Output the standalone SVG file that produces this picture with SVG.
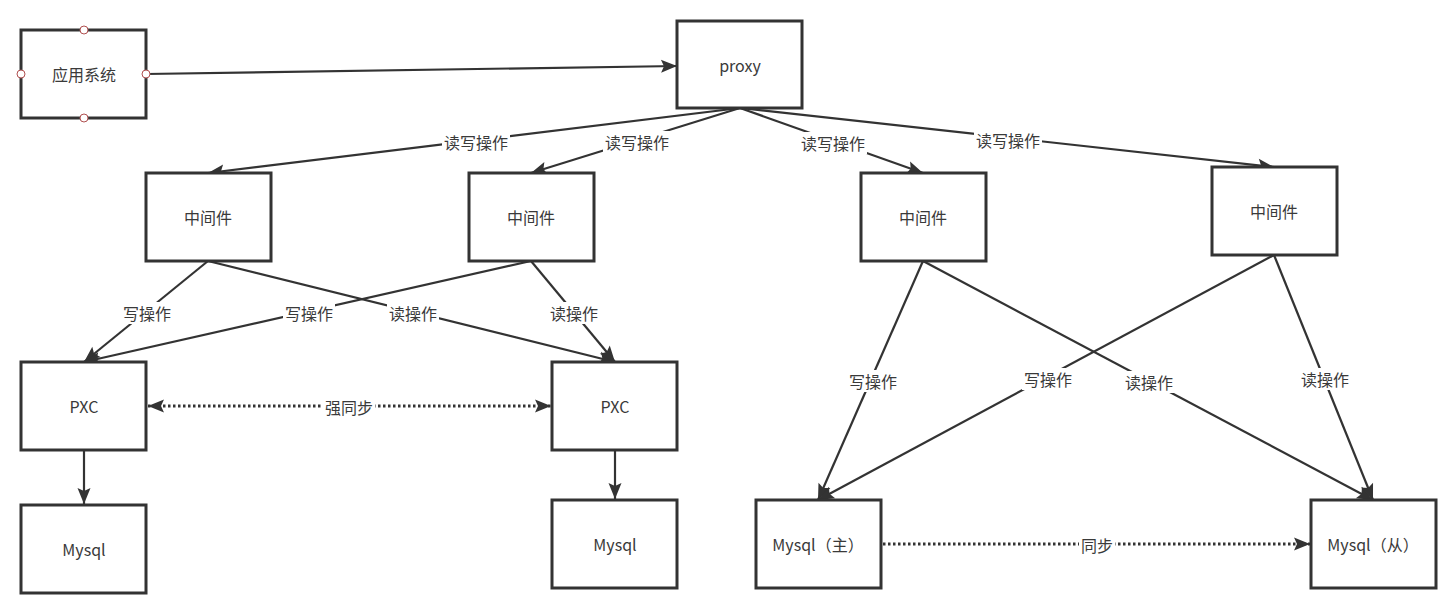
<svg xmlns="http://www.w3.org/2000/svg" width="1453" height="610" viewBox="0 0 1453 610">
<style>
.node rect{fill:#fff;stroke:#333;stroke-width:3}
.node text{font-family:"Noto Sans CJK SC","Noto Sans",sans-serif;font-size:16px;fill:#3a3a3a;text-anchor:middle;dominant-baseline:central}
.c{fill:none;stroke:#333;stroke-width:2.2}
.dot{fill:none;stroke:#333;stroke-width:3;stroke-dasharray:2.5 2.5}
.lbl rect{fill:#fff}
.lbl text{font-family:"Noto Sans CJK SC","Noto Sans",sans-serif;font-size:16px;fill:#3a3a3a;text-anchor:middle;dominant-baseline:central}
.port{fill:#fff;stroke:#b05050;stroke-width:1}
</style>
<defs>
<marker id="a" markerUnits="userSpaceOnUse" markerWidth="20" markerHeight="16" viewBox="-17 -8 20 16" refX="0" refY="0" orient="auto">
<path d="M0,0 L-16,-6.5 L-13,0 L-16,6.5 Z" fill="#333"/>
</marker>
<marker id="as" markerUnits="userSpaceOnUse" markerWidth="20" markerHeight="16" viewBox="-17 -8 20 16" refX="0" refY="0" orient="auto-start-reverse">
<path d="M0,0 L-16,-6.5 L-13,0 L-16,6.5 Z" fill="#333"/>
</marker>
</defs>
<rect width="1453" height="610" fill="#fff"/>
<g id="connectors">
<path class="c" d="M146,74 L677,66" marker-end="url(#a)"/>
<path class="c" d="M740,108 L208,173" marker-end="url(#a)"/>
<path class="c" d="M740,108 L531,173" marker-end="url(#a)"/>
<path class="c" d="M740,108 L923,173" marker-end="url(#a)"/>
<path class="c" d="M740,108 L1274,167" marker-end="url(#a)"/>
<path class="c" d="M208,261 L84,362" marker-end="url(#a)"/>
<path class="c" d="M208,261 L615,362" marker-end="url(#a)"/>
<path class="c" d="M531,261 L84,362" marker-end="url(#a)"/>
<path class="c" d="M531,261 L615,362" marker-end="url(#a)"/>
<path class="dot" d="M148,406 L551,406" marker-start="url(#as)" marker-end="url(#as)"/>
<path class="c" d="M84,450 L84,504" marker-end="url(#a)"/>
<path class="c" d="M615,450 L615,499" marker-end="url(#a)"/>
<path class="c" d="M923,261 L818,500" marker-end="url(#a)"/>
<path class="c" d="M923,261 L1373,500" marker-end="url(#a)"/>
<path class="c" d="M1274,255 L818,500" marker-end="url(#a)"/>
<path class="c" d="M1274,255 L1373,500" marker-end="url(#a)"/>
<path class="dot" d="M883,544 L1310,544" marker-end="url(#a)"/>
<g class="lbl">
<rect x="442" y="131" width="68" height="22"/><text x="476" y="142">读写操作</text>
<rect x="603" y="131" width="68" height="22"/><text x="637" y="142">读写操作</text>
<rect x="799" y="132" width="68" height="22"/><text x="833" y="143">读写操作</text>
<rect x="974" y="129" width="68" height="22"/><text x="1008" y="140">读写操作</text>
<rect x="121" y="302" width="52" height="22"/><text x="147" y="313">写操作</text>
<rect x="283" y="302" width="52" height="22"/><text x="309" y="313">写操作</text>
<rect x="387" y="302" width="52" height="22"/><text x="413" y="313">读操作</text>
<rect x="548" y="302" width="52" height="22"/><text x="574" y="313">读操作</text>
<rect x="323" y="396" width="52" height="22"/><text x="349" y="407">强同步</text>
<rect x="847" y="370" width="52" height="22"/><text x="873" y="381">写操作</text>
<rect x="1022" y="368" width="52" height="22"/><text x="1048" y="379">写操作</text>
<rect x="1123" y="371" width="52" height="22"/><text x="1149" y="382">读操作</text>
<rect x="1299" y="368" width="52" height="22"/><text x="1325" y="379">读操作</text>
<rect x="1079" y="534" width="36" height="22"/><text x="1097" y="545">同步</text>
</g>
</g>
<g id="app" class="node"><rect x="21" y="30" width="125" height="88"/><text x="84" y="74">应用系统</text>
<circle class="port" cx="84" cy="30" r="4"/><circle class="port" cx="21" cy="74" r="4"/><circle class="port" cx="146" cy="74" r="4"/><circle class="port" cx="84" cy="118" r="4"/></g>
<g id="proxy" class="node"><rect x="677" y="21" width="125" height="87"/><text x="740" y="65">proxy</text></g>
<g id="mw1" class="node"><rect x="146" y="173" width="125" height="88"/><text x="208" y="217">中间件</text></g>
<g id="mw2" class="node"><rect x="469" y="173" width="125" height="88"/><text x="531" y="217">中间件</text></g>
<g id="mw3" class="node"><rect x="861" y="173" width="125" height="88"/><text x="923" y="217">中间件</text></g>
<g id="mw4" class="node"><rect x="1212" y="167" width="125" height="88"/><text x="1274" y="211">中间件</text></g>
<g id="pxc1" class="node"><rect x="21" y="362" width="125" height="88"/><text x="84" y="406">PXC</text></g>
<g id="pxc2" class="node"><rect x="552" y="362" width="125" height="88"/><text x="615" y="406">PXC</text></g>
<g id="mysql1" class="node"><rect x="21" y="505" width="125" height="88"/><text x="84" y="549">Mysql</text></g>
<g id="mysql2" class="node"><rect x="552" y="500" width="125" height="88"/><text x="615" y="544">Mysql</text></g>
<g id="master" class="node"><rect x="756" y="500" width="125" height="88"/><text x="818" y="544">Mysql（主）</text></g>
<g id="slave" class="node"><rect x="1311" y="500" width="125" height="88"/><text x="1373" y="544">Mysql（从）</text></g>
</svg>
